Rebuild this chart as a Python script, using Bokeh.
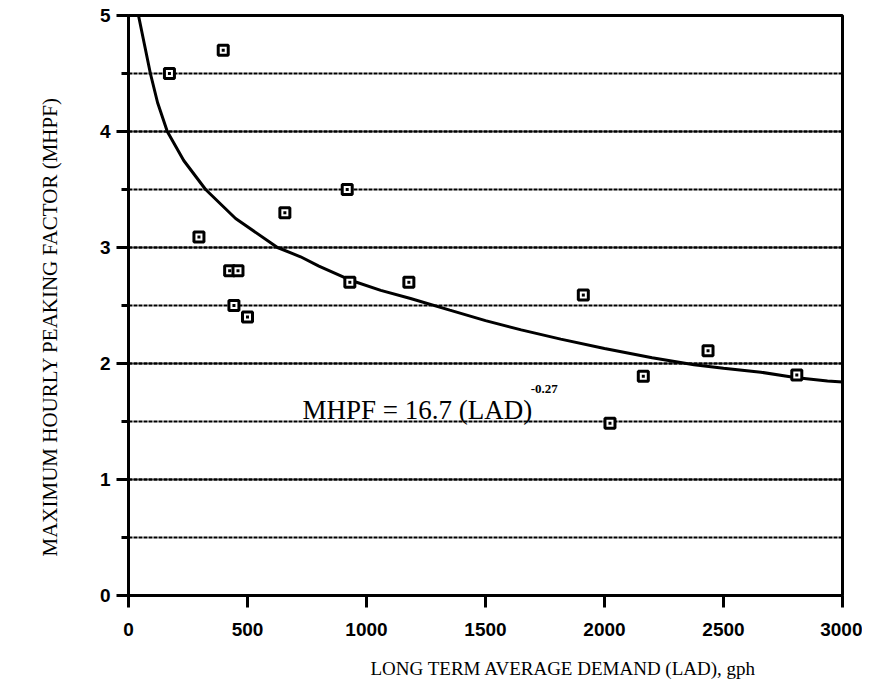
from bokeh.plotting import figure
from bokeh.models import Range1d, SingleIntervalTicker, ColumnDataSource, Title
from bokeh.core.properties import value
from bokeh.embed import file_html
from bokeh.resources import INLINE

# observed data points (LAD in gph, MHPF)
lad = [172, 398, 296, 425, 460, 443, 500, 657, 919, 930, 1178, 1911, 2023, 2163, 2435, 2808]
mhpf = [4.50, 4.70, 3.09, 2.80, 2.80, 2.50, 2.40, 3.30, 3.50, 2.70, 2.70, 2.59, 1.485, 1.89, 2.11, 1.90]

# fitted curve
curve_lad = [42, 67, 92, 122, 163, 232, 324, 450, 626, 723, 800, 930, 1060, 1185, 1350, 1500,
             1650, 1816, 2000, 2200, 2376, 2500, 2657, 2800, 2937, 3000]
curve_mhpf = [5.0, 4.75, 4.5, 4.25, 4.0, 3.75, 3.5, 3.25, 3.0, 2.92, 2.84, 2.72, 2.63, 2.56, 2.46, 2.37,
              2.29, 2.21, 2.13, 2.05, 1.99, 1.96, 1.925, 1.88, 1.85, 1.84]

x_title = "LONG TERM AVERAGE DEMAND (LAD),  gph"
y_title = "MAXIMUM HOURLY PEAKING FACTOR (MHPF)"

eq_text = ["MHPF = 16.7 (LAD)"]
eq_x = [731]
eq_y = [1.595]
sup_text = ["-0.27"]
sup_x = [1690]
sup_y = [1.78]

p = figure(width=862, height=694, output_backend="svg", toolbar_location=None,
           x_range=Range1d(0, 3000), y_range=Range1d(0, 5),
           min_border_left=128, min_border_top=15, min_border_right=20, min_border_bottom=99)
p.frame_width = 714
p.frame_height = 580

p.outline_line_color = "black"
p.outline_line_width = 3
p.outline_line_alpha = 1

p.xaxis.ticker = SingleIntervalTicker(interval=500, num_minor_ticks=0)
p.yaxis.ticker = SingleIntervalTicker(interval=1, num_minor_ticks=2)

for ax in (p.xaxis[0], p.yaxis[0]):
    ax.axis_line_width = 3
    ax.axis_line_color = "black"
    ax.major_tick_line_width = 3
    ax.major_tick_line_color = "black"
    ax.major_tick_out = 12
    ax.major_tick_in = 0
    ax.minor_tick_line_width = 3
    ax.minor_tick_line_color = "black"
    ax.minor_tick_out = 7
    ax.minor_tick_in = 0
    ax.major_label_text_font = "Liberation Sans"
    ax.major_label_text_font_size = "19px"
    ax.major_label_text_font_style = "bold"
    ax.major_label_text_color = "black"

p.xaxis.major_label_standoff = 15
p.yaxis.major_label_standoff = 6

tx = Title(text=x_title, align="left", offset=242, standoff=34,
           text_font="Liberation Serif", text_font_size="19px",
           text_font_style="normal", text_color="black")
p.add_layout(tx, "below")
ty = Title(text=y_title, align="left", offset=39, standoff=70,
           text_font="Liberation Serif", text_font_size="21px",
           text_font_style="normal", text_color="black")
p.add_layout(ty, "left")

p.xgrid.grid_line_color = None
p.ygrid.grid_line_color = "black"
p.ygrid.grid_line_width = 2
p.ygrid.grid_line_dash = "4 1"
p.ygrid.minor_grid_line_color = "black"
p.ygrid.minor_grid_line_width = 2
p.ygrid.minor_grid_line_dash = "4 1"

p.line(curve_lad, curve_mhpf, line_color="black", line_width=3)

src = ColumnDataSource(dict(x=lad, y=mhpf))
p.scatter("x", "y", source=src, marker="square", size=10, fill_color="white",
          line_color="black", line_width=3)
p.scatter("x", "y", source=src, marker="square", size=3, fill_color="black",
          line_color="black", line_width=0)

p.text(x=eq_x, y=eq_y, text=eq_text, text_font=value("Liberation Serif"),
       text_font_size="27px", text_color="black", text_baseline="alphabetic", text_align="left")
p.text(x=sup_x, y=sup_y, text=sup_text, text_font=value("Liberation Serif"),
       text_font_size="13px", text_font_style="bold", text_color="black",
       text_baseline="alphabetic", text_align="left")

open("out.html", "w").write(file_html(p, INLINE))
